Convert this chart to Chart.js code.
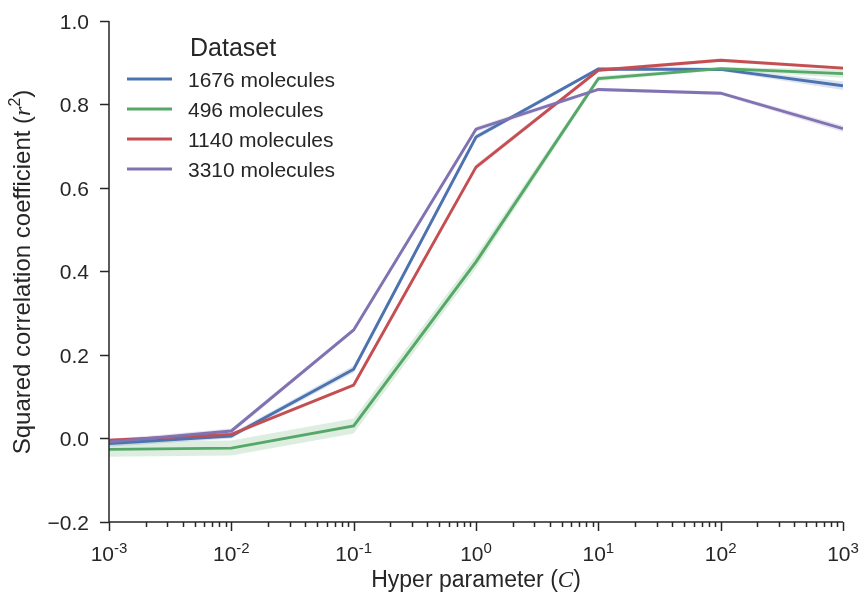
<!DOCTYPE html>
<html>
<head>
<meta charset="utf-8">
<script src="https://cdn.jsdelivr.net/npm/chart.js@4/dist/chart.umd.min.js"></script>
<style>
  html, body { margin: 0; padding: 0; background: #ffffff; }
  #wrap { width: 862px; height: 596px; }
</style>
</head>
<body>
<div id="wrap"><canvas id="c" width="862" height="596"></canvas></div>
<script>
// Hyper parameter values (log scale)
const hyperC = [0.001, 0.01, 0.1, 1, 10, 100, 1000];

// Mean r^2 per dataset
const r2_1676 = [-0.012, 0.006, 0.166, 0.722, 0.885, 0.884, 0.845];
const r2_496  = [-0.026, -0.023, 0.030, 0.423, 0.862, 0.886, 0.874];
const r2_1140 = [-0.004, 0.010, 0.128, 0.650, 0.882, 0.906, 0.887];
const r2_3310 = [-0.008, 0.018, 0.260, 0.741, 0.836, 0.827, 0.742];

// Half-width of the confidence band per dataset
const ci_1676 = [0.008, 0.006, 0.008, 0.006, 0.004, 0.004, 0.010];
const ci_496  = [0.018, 0.018, 0.018, 0.016, 0.006, 0.004, 0.010];
const ci_1140 = [0.004, 0.004, 0.004, 0.006, 0.004, 0.004, 0.004];
const ci_3310 = [0.006, 0.006, 0.004, 0.006, 0.004, 0.004, 0.008];

const seriesLabels = ['1676 molecules', '496 molecules', '1140 molecules', '3310 molecules'];
const legendTitle = 'Dataset';

// Axis ticks
const yTickValues = [-0.2, 0.0, 0.2, 0.4, 0.6, 0.8, 1.0];
const yTickLabels = ['\u22120.2', '0.0', '0.2', '0.4', '0.6', '0.8', '1.0'];
const xTickExponents = ['-3', '-2', '-1', '0', '1', '2', '3'];

const palette = ['#4C72B0', '#55A868', '#C44E52', '#8172B2'];
const bandFill = ['rgba(76,114,176,0.2)', 'rgba(85,168,104,0.2)', 'rgba(196,78,82,0.2)', 'rgba(129,114,178,0.2)'];
const INK = '#262626';
const SANS = '"Liberation Sans", Arial, Helvetica, sans-serif';
const SERIF = '"Liberation Serif", "DejaVu Serif", serif';
const LINE_W = 2.9;

const means = [r2_1676, r2_496, r2_1140, r2_3310];
const halfWidths = [ci_1676, ci_496, ci_1140, ci_3310];

function pts(vals) { return hyperC.map((x, i) => ({ x: x, y: vals[i] })); }

const datasets = [];
// Confidence bands: upper edge filled down to the lower edge that follows it
means.forEach((m, s) => {
  const hw = halfWidths[s];
  datasets.push({
    label: 'band-hi-' + s, data: pts(m.map((v, i) => v + hw[i])),
    borderWidth: 0, borderColor: 'rgba(0,0,0,0)', pointRadius: 0,
    backgroundColor: bandFill[s], fill: '+1', order: 20, tension: 0
  });
  datasets.push({
    label: 'band-lo-' + s, data: pts(m.map((v, i) => v - hw[i])),
    borderWidth: 0, borderColor: 'rgba(0,0,0,0)', pointRadius: 0,
    fill: false, order: 20, tension: 0
  });
});
// Mean lines, later series drawn on top
means.forEach((m, s) => {
  datasets.push({
    label: seriesLabels[s], data: pts(m),
    borderColor: palette[s], borderWidth: LINE_W, pointRadius: 0,
    fill: false, order: 10 - s, tension: 0, borderJoinStyle: 'miter'
  });
});

// Draws a run of text pieces (font / vertical shift) as one label
function drawRich(ctx, parts, x, y, align) {
  let total = 0;
  const widths = parts.map(p => { ctx.font = p.font; const w = ctx.measureText(p.text).width; total += w; return w; });
  let cx = align === 'center' ? x - total / 2 : (align === 'right' ? x - total : x);
  ctx.textAlign = 'left';
  ctx.textBaseline = 'alphabetic';
  parts.forEach((p, i) => {
    ctx.font = p.font;
    ctx.fillText(p.text, cx, y + (p.dy || 0));
    cx += widths[i];
  });
}

const axesDecor = {
  id: 'axesDecor',
  afterDraw(chart) {
    const ctx = chart.ctx;
    const area = chart.chartArea;
    const xs = chart.scales.x, ys = chart.scales.y;
    ctx.save();
    ctx.strokeStyle = INK;
    ctx.fillStyle = INK;
    ctx.lineWidth = 1.5;
    ctx.lineCap = 'butt';

    // spines (left and bottom only)
    ctx.beginPath();
    ctx.moveTo(area.left, area.top);
    ctx.lineTo(area.left, area.bottom);
    ctx.lineTo(area.right, area.bottom);
    ctx.stroke();

    // y ticks and labels
    yTickValues.forEach((v, i) => {
      const py = Math.round(ys.getPixelForValue(v)) + 0.5;
      ctx.beginPath();
      ctx.moveTo(area.left - 9, py);
      ctx.lineTo(area.left, py);
      ctx.stroke();
      drawRich(ctx, [{ text: yTickLabels[i], font: '21px ' + SANS }], area.left - 20, py + 7, 'right');
    });

    // x ticks: decades (major) and 2..9 multiples (minor)
    for (let e = -3; e <= 3; e++) {
      const px = Math.round(xs.getPixelForValue(Math.pow(10, e))) + 0.5;
      ctx.beginPath();
      ctx.moveTo(px, area.bottom);
      ctx.lineTo(px, area.bottom + 9);
      ctx.stroke();
      if (e < 3) {
        for (let k = 2; k <= 9; k++) {
          const mx = Math.round(xs.getPixelForValue(k * Math.pow(10, e))) + 0.5;
          ctx.beginPath();
          ctx.moveTo(mx, area.bottom);
          ctx.lineTo(mx, area.bottom + 5);
          ctx.stroke();
        }
      }
    }
    xTickExponents.forEach((ex, i) => {
      const px = xs.getPixelForValue(hyperC[i]);
      drawRich(ctx, [
        { text: '10', font: '21px ' + SANS },
        { text: ex, font: '15px ' + SANS, dy: -8 }
      ], px, 561, 'center');
    });

    // x axis title
    drawRich(ctx, [
      { text: 'Hyper parameter (', font: '23px ' + SANS },
      { text: 'C', font: 'italic 23px ' + SERIF },
      { text: ')', font: '23px ' + SANS }
    ], (area.left + area.right) / 2, 587, 'center');

    // y axis title, rotated
    ctx.save();
    ctx.translate(30, 272);
    ctx.rotate(-Math.PI / 2);
    drawRich(ctx, [
      { text: 'Squared correlation coefficient (', font: '24px ' + SANS },
      { text: 'r', font: 'italic 24px ' + SERIF },
      { text: '2', font: '16px ' + SANS, dy: -10 },
      { text: ')', font: '24px ' + SANS }
    ], 0, 0, 'center');
    ctx.restore();

    // legend
    drawRich(ctx, [{ text: legendTitle, font: '25px ' + SANS }], 190, 56, 'left');
    seriesLabels.forEach((lab, s) => {
      const ly = 79 + s * 30;
      ctx.strokeStyle = palette[s];
      ctx.lineWidth = LINE_W;
      ctx.beginPath();
      ctx.moveTo(127, ly);
      ctx.lineTo(172, ly);
      ctx.stroke();
      ctx.fillStyle = INK;
      drawRich(ctx, [{ text: lab, font: '21px ' + SANS }], 188, ly + 8, 'left');
    });
    ctx.restore();
  }
};

new Chart(document.getElementById('c'), {
  type: 'line',
  data: { datasets: datasets },
  options: {
    responsive: false,
    animation: false,
    devicePixelRatio: 1,
    layout: { padding: { top: 21, right: 19, left: 0, bottom: 0 } },
    plugins: { legend: { display: false }, tooltip: { enabled: false } },
    scales: {
      x: {
        type: 'logarithmic', min: 0.001, max: 1000,
        ticks: { display: false }, grid: { display: false }, border: { display: false },
        afterFit(scale) { scale.height = 74; }
      },
      y: {
        type: 'linear', min: -0.2, max: 1.0,
        ticks: { display: false }, grid: { display: false }, border: { display: false },
        afterFit(scale) { scale.width = 109; }
      }
    }
  },
  plugins: [axesDecor]
});
</script>
</body>
</html>
